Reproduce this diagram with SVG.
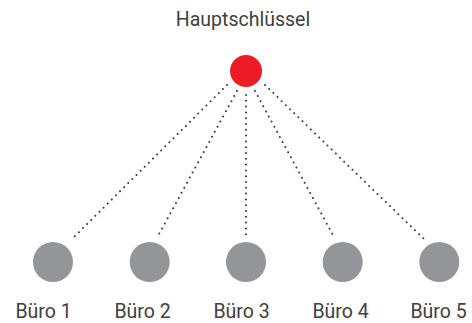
<svg xmlns="http://www.w3.org/2000/svg" width="472" height="323" viewBox="0 0 472 323">
<style>
.lbl{font-family:Roboto,"Liberation Sans",sans-serif;font-size:19.5px;fill:#404040;text-anchor:middle}
.office{fill:#939598}
.link{stroke:#333;stroke-width:2;stroke-linecap:round;stroke-dasharray:0 5.8;fill:none}
</style>
<rect width="472" height="323" fill="#fff"/>
<g id="connectors">
<line class="link" x1="227" y1="85" x2="73" y2="238"/>
<line class="link" x1="237" y1="91" x2="158" y2="236"/>
<line class="link" x1="246" y1="95" x2="246" y2="237"/>
<line class="link" x1="255" y1="91" x2="334" y2="237"/>
<line class="link" x1="265" y1="85" x2="425" y2="240"/>
</g>
<g id="master">
<circle cx="246" cy="71" r="16" fill="#ED1C24"/>
<text class="lbl" x="243" y="26">Hauptschlüssel</text>
</g>
<g id="buero1"><circle class="office" cx="53" cy="262" r="20"/><text class="lbl" x="43.5" y="318">Büro 1</text></g>
<g id="buero2"><circle class="office" cx="149.7" cy="262" r="20"/><text class="lbl" x="142.5" y="318">Büro 2</text></g>
<g id="buero3"><circle class="office" cx="246" cy="262" r="20"/><text class="lbl" x="241.5" y="318">Büro 3</text></g>
<g id="buero4"><circle class="office" cx="342.7" cy="262" r="20"/><text class="lbl" x="340.5" y="318">Büro 4</text></g>
<g id="buero5"><circle class="office" cx="439.3" cy="262" r="20"/><text class="lbl" x="438.5" y="318">Büro 5</text></g>
</svg>
